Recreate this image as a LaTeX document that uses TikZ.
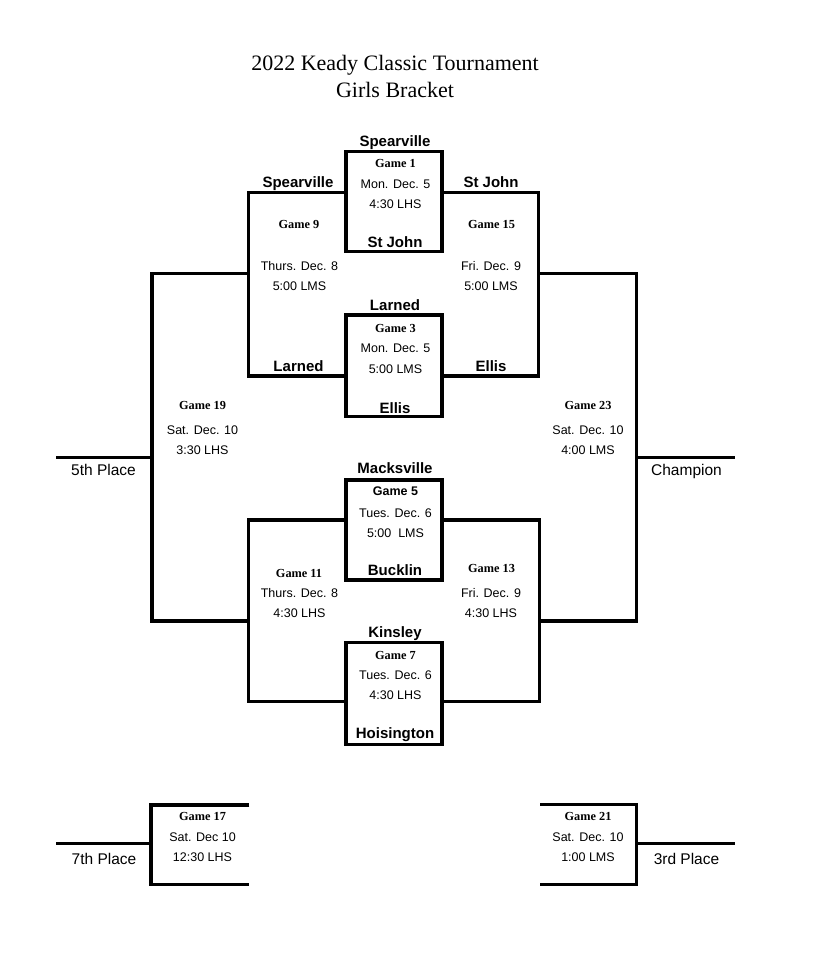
\documentclass[tikz,border=0pt]{standalone}
\usepackage{fontspec}
\setmainfont{Liberation Serif}
\newfontfamily\arial{Liberation Sans}
\begin{document}
\begin{tikzpicture}[x=1pt,y=-1pt,
  br/.style={line width=3.3pt},
  box/.style={draw,line width=3.3pt,inner sep=0,minimum width=96pt},
  team/.style={anchor=base,inner sep=0,font=\arial\bfseries\fontsize{15}{18}\selectfont},
  info/.style={anchor=base,inner sep=0,font=\arial\fontsize{12.5}{15}\selectfont},
  game/.style={anchor=base,inner sep=0,font=\bfseries\fontsize{12.3}{14}\selectfont},
  sgame/.style={anchor=base,inner sep=0,font=\arial\bfseries\fontsize{12.5}{15}\selectfont},
  place/.style={anchor=base,inner sep=0,font=\arial\fontsize{15.5}{18}\selectfont},
  ttl/.style={anchor=base,inner sep=0,font=\fontsize{22}{26}\selectfont}]
\useasboundingbox[fill=white] (0,0) rectangle (814,978);

% title
\node[ttl] (t1) at (395,70) {2022 Keady Classic Tournament};
\node[ttl] (t2) at (395,97) {Girls Bracket};

% first-round boxes
\node[box,minimum height=100pt] (g1) at (394,201.7) {};
\node[box,minimum height=101.7pt] (g3) at (394,365.8) {};
\node[box,minimum height=100pt] (g5) at (394,530) {};
\node[box,minimum height=101.7pt] (g7) at (394,693.5) {};

% bracket coordinates
\coordinate (g9a) at (248.3,192.3);  \coordinate (g9b) at (248.3,376);
\coordinate (g15a) at (538.5,192.3); \coordinate (g15b) at (538.5,376);
\coordinate (g11a) at (248.3,520);   \coordinate (g11b) at (248.3,701.7);
\coordinate (g13a) at (539.3,520);   \coordinate (g13b) at (539.3,701.7);
\coordinate (g19a) at (152,273.3);   \coordinate (g19b) at (152,621);
\coordinate (g19c) at (152,457.3);   \coordinate (p5) at (55.7,457.3);
\coordinate (g23a) at (636.5,273.3); \coordinate (g23b) at (636.5,621);
\coordinate (g23c) at (636.5,457.3); \coordinate (pc) at (735,457.3);
\coordinate (g17a) at (151,805);     \coordinate (g17b) at (151,884.3);
\coordinate (g17c) at (151,843.3);   \coordinate (p7) at (55.7,843.3);
\coordinate (g17ta) at (249.3,805);  \coordinate (g17tb) at (249.3,884.3);
\coordinate (g21a) at (636.7,804.5); \coordinate (g21b) at (636.7,884.3);
\coordinate (g21c) at (636.7,843.3); \coordinate (p3) at (735,843.3);
\coordinate (g21ta) at (540,804.5);  \coordinate (g21tb) at (540,884.3);

% brackets
\draw[br] (g1.west |- g9a) -- (g9a) -- (g9b) -- (g3.west |- g9b);
\draw[br] (g1.east |- g15a) -- (g15a) -- (g15b) -- (g3.east |- g15b);
\draw[br] (g5.west |- g11a) -- (g11a) -- (g11b) -- (g7.west |- g11b);
\draw[br] (g5.east |- g13a) -- (g13a) -- (g13b) -- (g7.east |- g13b);
\draw[br] (g9a |- g19a) -- (g19a) -- (g19b) -- (g11a |- g19b);
\draw[br] (g19c) -- (p5);
\draw[br] (g15a |- g23a) -- (g23a) -- (g23b) -- (g13a |- g23b);
\draw[br] (g23c) -- (pc);
\draw[br] (g17ta) -- (g17a) -- (g17b) -- (g17tb);
\draw[br] (g17c) -- (p7);
\draw[br] (g21ta) -- (g21a) -- (g21b) -- (g21tb);
\draw[br] (g21c) -- (p3);

% Game 1
\node[team] (s1) at (395,146) {Spearville};
\node[game] (n1) at (395.5,167) {Game 1};
\node[info] (d1) at (395.5,188) {Mon. Dec. 5};
\node[info] (h1) at (395.5,208) {4:30 LHS};
\node[team] (s1b) at (395,247) {St John};
% Game 3
\node[team] (s3) at (395,310) {Larned};
\node[game] (n3) at (395.5,332) {Game 3};
\node[info] (d3) at (395.5,352) {Mon. Dec. 5};
\node[info] (h3) at (395.5,373) {5:00 LMS};
\node[team] (s3b) at (395,413) {Ellis};
% Game 5
\node[team] (s5) at (395,473) {Macksville};
\node[sgame] (n5) at (395.5,495) {Game 5};
\node[info] (d5) at (395.5,517) {Tues. Dec. 6};
\node[info] (h5) at (395.5,537) {5:00\ \ LMS};
\node[team] (s5b) at (395,575) {Bucklin};
% Game 7
\node[team] (s7) at (395,637) {Kinsley};
\node[game] (n7) at (395.5,659) {Game 7};
\node[info] (d7) at (395.5,679) {Tues. Dec. 6};
\node[info] (h7) at (395.5,699) {4:30 LHS};
\node[team] (s7b) at (395,738) {Hoisington};

% second round teams
\node[team] (w1) at (298,187) {Spearville};
\node[team] (w2) at (491,187) {St John};
\node[team] (w3) at (298.5,371) {Larned};
\node[team] (w4) at (491,371) {Ellis};

% Game 9 / 15
\node[game] (n9) at (299,228) {Game 9};
\node[info] (d9) at (299.5,270) {Thurs. Dec. 8};
\node[info] (h9) at (299.5,290) {5:00 LMS};
\node[game] (n15) at (491.5,228) {Game 15};
\node[info] (d15) at (491,270) {Fri. Dec. 9};
\node[info] (h15) at (491,290) {5:00 LMS};
% Game 11 / 13
\node[game] (n11) at (299,577) {Game 11};
\node[info] (d11) at (299.5,597) {Thurs. Dec. 8};
\node[info] (h11) at (299.5,617) {4:30 LHS};
\node[game] (n13) at (491.5,572) {Game 13};
\node[info] (d13) at (491,597) {Fri. Dec. 9};
\node[info] (h13) at (491,617) {4:30 LHS};
% Game 19 / 23
\node[game] (n19) at (202.5,409) {Game 19};
\node[info] (d19) at (202.5,434) {Sat. Dec. 10};
\node[info] (h19) at (202.5,454) {3:30 LHS};
\node[game] (n23) at (588,409) {Game 23};
\node[info] (d23) at (588,434) {Sat. Dec. 10};
\node[info] (h23) at (588,454) {4:00 LMS};
\node[place] (l5) at (103.5,475) {5th Place};
\node[place] (lc) at (686.5,475) {Champion};
% Game 17 / 21
\node[game] (n17) at (202.5,820) {Game 17};
\node[info] (d17) at (202.5,841) {Sat. Dec 10};
\node[info] (h17) at (202.5,861) {12:30 LHS};
\node[game] (n21) at (588,820) {Game 21};
\node[info] (d21) at (588,841) {Sat. Dec. 10};
\node[info] (h21) at (588,861) {1:00 LMS};
\node[place] (l7) at (104,864) {7th Place};
\node[place] (l3) at (686.5,864) {3rd Place};
\end{tikzpicture}
\end{document}
